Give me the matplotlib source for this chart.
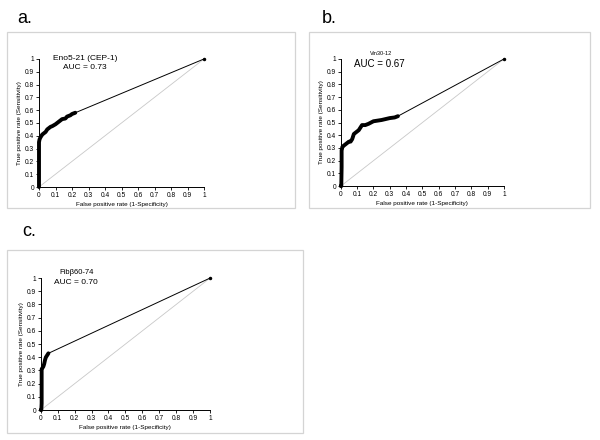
import matplotlib
matplotlib.use('Agg')
import matplotlib.pyplot as plt
from matplotlib.patches import Rectangle

plt.rcParams['font.family'] = ['Liberation Sans', 'DejaVu Sans']

# ROC points (fpr, tpr)
fpr_a = [0, 0, 0, 0.003, 0.006, 0.01, 0.015, 0.02, 0.03, 0.04, 0.05, 0.06, 0.07, 0.08, 0.1, 0.11, 0.12, 0.13, 0.14, 0.16, 0.17, 0.19, 0.2, 0.22, 1]
tpr_a = [0, 0.1, 0.35, 0.37, 0.38, 0.39, 0.40, 0.41, 0.42, 0.43, 0.45, 0.46, 0.47, 0.475, 0.49, 0.50, 0.51, 0.52, 0.53, 0.535, 0.55, 0.56, 0.57, 0.58, 1]

fpr_b = [0, 0.003, 0.005, 0.005, 0.01, 0.02, 0.03, 0.05, 0.06, 0.07, 0.08, 0.09, 0.1, 0.11, 0.12, 0.13, 0.15, 0.17, 0.2, 0.25, 0.3, 0.33, 0.35, 1]
tpr_b = [0, 0, 0.15, 0.28, 0.31, 0.32, 0.33, 0.35, 0.35, 0.37, 0.41, 0.42, 0.43, 0.44, 0.46, 0.48, 0.48, 0.49, 0.51, 0.52, 0.535, 0.54, 0.55, 1]

fpr_c = [0, 0.003, 0.005, 0.005, 0.01, 0.015, 0.02, 0.025, 0.03, 0.035, 0.04, 0.045, 1]
tpr_c = [0, 0, 0.05, 0.31, 0.32, 0.33, 0.35, 0.38, 0.40, 0.41, 0.42, 0.43, 1]

names = ['Eno5-21 (CEP-1)', 'Vin30-12', 'Fib\u03b260-74']
aucs = ['AUC = 0.73', 'AUC = 0.67', 'AUC = 0.70']
letters = ['a.', 'b.', 'c.']
ticks = [0, 0.1, 0.2, 0.3, 0.4, 0.5, 0.6, 0.7, 0.8, 0.9, 1]
tick_labels = ['0', '0.1', '0.2', '0.3', '0.4', '0.5', '0.6', '0.7', '0.8', '0.9', '1']

fig = plt.figure(figsize=(6, 4.4), dpi=100)

# panel frames and axes positions (figure fractions)
frames = [(0.012, 0.527, 0.48, 0.40), (0.515, 0.527, 0.468, 0.40), (0.012, 0.016, 0.493, 0.416)]
axpos = [(0.065, 0.575, 0.275, 0.291), (0.568, 0.577, 0.272, 0.289), (0.068, 0.068, 0.282, 0.30)]
letter_pos = [(0.028, 0.957), (0.536, 0.957), (0.037, 0.474)]
name_pos = [(0.28, 1.0), (0.245, 1.04), (0.21, 1.04)]
auc_pos = [(0.28, 0.93), (0.235, 0.96), (0.21, 0.97)]
name_size = [6, 4, 5.5]

data = [(fpr_a, tpr_a), (fpr_b, tpr_b), (fpr_c, tpr_c)]

for i in range(3):
    fx, fy, fw, fh = frames[i]
    fig.patches.append(Rectangle((fx, fy), fw, fh, transform=fig.transFigure,
                                 fill=False, edgecolor='#d4d4d4', linewidth=0.9))
    fig.text(letter_pos[i][0], letter_pos[i][1], letters[i], fontsize=13, va='center')

    ax = fig.add_axes(axpos[i])
    x, y = data[i]
    ax.plot([0, 1], [0, 1], color='#c8c8c8', linewidth=0.6)
    ax.plot(x[-2:], y[-2:], color='black', linewidth=0.7)
    ax.plot(x[:-1], y[:-1], color='black', linewidth=2.8, solid_capstyle='round', clip_on=False)
    ax.plot([1], [1], 'o', color='black', markersize=1.5, clip_on=False)

    ax.set_xlim(0, 1)
    ax.set_ylim(0, 1)
    ax.set_xticks(ticks)
    ax.set_xticklabels(tick_labels)
    ax.set_yticks(ticks)
    ax.set_yticklabels(tick_labels)
    ax.tick_params(labelsize=4.8, length=2, width=0.6, pad=1.5)
    for s in ['top', 'right']:
        ax.spines[s].set_visible(False)
    ax.spines['left'].set_linewidth(0.7)
    ax.spines['bottom'].set_linewidth(0.7)
    ax.set_xlabel('False positive rate (1-Specificity)', fontsize=4.6, labelpad=2)
    ax.set_ylabel('True positive rate (Sensitivity)', fontsize=4.6, labelpad=2)
    ax.text(name_pos[i][0], name_pos[i][1], names[i], fontsize=name_size[i], ha='center', va='center', clip_on=False)
    ax.text(auc_pos[i][0], auc_pos[i][1], aucs[i], fontsize=6 if i != 1 else 7, ha='center', va='center', clip_on=False)

fig.savefig('out.png', dpi=100)
